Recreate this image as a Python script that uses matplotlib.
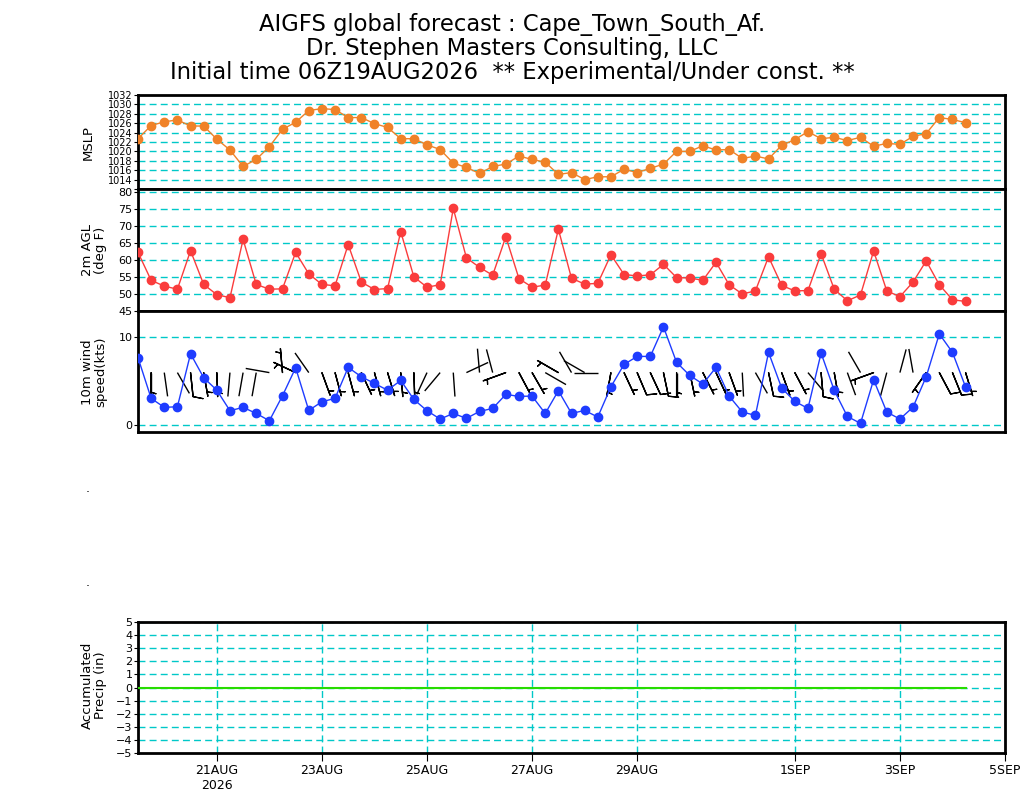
import numpy as np
import pandas as pd
import matplotlib
matplotlib.use('Agg')
import matplotlib.pyplot as plt
import matplotlib.dates as mdates
from matplotlib.collections import LineCollection

# 6-hourly forecast steps, 19AUG 12Z .. 4SEP 06Z
times = pd.date_range('2026-08-19 12:00', periods=64, freq='6h')

mslp = [1022.7, 1025.5, 1026.3, 1026.7, 1025.4, 1025.4, 1022.6, 1020.3, 1016.8, 1018.3,
        1021.0, 1024.7, 1026.2, 1028.7, 1029.1, 1028.9, 1027.2, 1027.2, 1025.9, 1025.1,
        1022.7, 1022.7, 1021.4, 1020.4, 1017.5, 1016.6, 1015.3, 1016.8, 1017.3, 1019.0,
        1018.3, 1017.7, 1015.1, 1015.5, 1014.0, 1014.6, 1014.6, 1016.2, 1015.5, 1016.4,
        1017.3, 1020.0, 1020.0, 1021.2, 1020.3, 1020.4, 1018.5, 1019.0, 1018.4, 1021.3,
        1022.5, 1024.2, 1022.7, 1023.0, 1022.3, 1023.0, 1021.1, 1021.7, 1021.5, 1023.2,
        1023.8, 1027.2, 1026.8, 1026.1]

temp = [62.2, 54.0, 52.3, 51.4, 62.7, 52.8, 49.8, 48.9, 66.0, 52.8,
        51.4, 51.5, 62.2, 55.9, 52.8, 52.4, 64.5, 53.5, 51.3, 51.6,
        68.3, 55.0, 52.0, 52.7, 75.1, 60.6, 57.8, 55.5, 66.8, 54.5,
        52.0, 52.6, 69.0, 54.6, 52.9, 53.1, 61.5, 55.7, 55.3, 55.6,
        58.7, 54.8, 54.7, 54.0, 59.3, 52.7, 50.0, 50.9, 60.9, 52.5,
        50.9, 51.0, 61.8, 51.4, 48.0, 49.7, 62.6, 50.9, 49.2, 53.5,
        59.7, 52.7, 48.3, 47.8]

wspd = [7.7, 3.07, 2.05, 2.12, 8.14, 5.42, 4.0, 1.67, 2.05, 1.36,
        0.53, 3.37, 6.55, 1.70, 2.69, 3.07, 6.59, 5.53, 4.77, 4.0,
        5.11, 2.95, 1.67, 0.72, 1.36, 0.80, 1.59, 1.93, 3.52, 3.30,
        3.33, 1.36, 3.94, 1.36, 1.70, 0.95, 4.39, 6.93, 7.84, 7.84,
        11.2, 7.16, 5.68, 4.70, 6.59, 3.33, 1.52, 1.14, 8.30, 4.24,
        2.73, 1.93, 8.22, 3.98, 1.02, 0.23, 5.19, 1.52, 0.72, 2.08,
        5.53, 10.4, 8.30, 4.36]

# direction the wind blows from, degrees
wdir = [200, 180, 172, 150, 174, 170, 178, 185, 190, 190,
        280, 355, 295, 325, 160, 165, 165, 155, 165, 163,
        175, 178, 205, 220, 176, 65, 355, 345, 250, 152,
        150, 120, 300, 330, 300, 270, 190, 155, 157, 155,
        168, 180, 168, 153, 155, 160, 177, 150, 168, 160,
        152, 140, 175, 170, 160, 330, 250, 195, 15, 350,
        215, 152, 158, 163]

precip = [0.0] * 64

tick_dates = ['2026-08-21', '2026-08-23', '2026-08-25', '2026-08-27',
              '2026-08-29', '2026-09-01', '2026-09-03', '2026-09-05']
tick_labels = ['21AUG\n2026', '23AUG', '25AUG', '27AUG', '29AUG', '1SEP', '3SEP', '5SEP']

xn = mdates.date2num(times)
xt = mdates.date2num(pd.to_datetime(tick_dates))
x0 = mdates.date2num(pd.Timestamp('2026-08-19 12:00'))
x1 = mdates.date2num(pd.Timestamp('2026-09-05 00:00'))

GRID = '#00c8c8'
DASH = (0, (5, 3))

fig = plt.figure(figsize=(10.24, 8), dpi=100)
L, W = 138 / 1024, 867 / 1024

def panel(top, bottom):
    ax = fig.add_axes([L, 1 - bottom / 800, W, (bottom - top) / 800])
    ax.set_xlim(x0, x1)
    for s in ax.spines.values():
        s.set_linewidth(2)
    ax.tick_params(axis='y', direction='out', length=3, labelsize=8, pad=1)
    ax.tick_params(axis='x', bottom=False, labelbottom=False)
    return ax

# MSLP
ax1 = panel(95, 189)
ax1.set_ylim(1012, 1032)
ax1.set_yticks(range(1012, 1033, 2))
ax1.set_yticklabels([''] + [str(v) for v in range(1014, 1033, 2)])
ax1.tick_params(axis='y', labelsize=7)
for v in range(1014, 1032, 2):
    ax1.axhline(v, color=GRID, lw=1, ls=DASH, zorder=1)
ax1.plot(xn, mslp, '-o', color='#f08228', lw=1, ms=6, zorder=3)

# 2m temperature
ax2 = panel(189, 311)
ax2.set_ylim(45, 80.8)
ax2.set_yticks(range(45, 81, 5))
for v in range(50, 81, 5):
    ax2.axhline(v, color=GRID, lw=1, ls=DASH, zorder=1)
ax2.plot(xn, temp, '-o', color='#fa3c3c', lw=1, ms=6, zorder=3)

# 10m wind
ax3 = panel(311, 432)
ax3.set_ylim(-0.75, 13)
ax3.set_yticks([0, 10])
for v in [0, 10]:
    ax3.axhline(v, color=GRID, lw=1, ls=DASH, zorder=1)
rad = np.radians(wdir)
spd = np.array(wspd)
by = np.full(len(xn), 6.0)
# staff of each barb, 24 px long, converted to data units of this panel
staff = 24.0
dxp = (x1 - x0) / 867.0
dyp = 13.75 / 121.0
segs = [[(x, y), (x + staff * np.sin(r) * dxp, y + staff * np.cos(r) * dyp)]
        for x, y, r in zip(xn, by, rad)]
ax3.add_collection(LineCollection(segs, colors='k', linewidths=1.0, zorder=2))
ax3.barbs(xn, by, -spd * np.sin(rad), -spd * np.cos(rad), length=5.9, flip_barb=True,
          sizes=dict(emptybarb=0), linewidth=0.9, color='k', zorder=2)
ax3.plot(xn, wspd, '-o', color='#1e3cff', lw=1, ms=6, zorder=3)

# accumulated precip
ax4 = panel(622, 753)
ax4.set_ylim(-5, 5)
ax4.set_yticks(range(-5, 6))
for v in range(-4, 6):
    ax4.axhline(v, color=GRID, lw=1, ls=DASH, zorder=1)
for v in xt[:-1]:
    ax4.axvline(v, color=GRID, lw=1, ls=DASH, zorder=1)
ax4.plot(xn, precip, '-', color='#28dc00', lw=1.5, zorder=3)
ax4.set_xticks(xt)
ax4.set_xticklabels(tick_labels, fontsize=9)
ax4.tick_params(axis='x', bottom=True, labelbottom=True, direction='out', length=6, pad=2)

# axis titles
fig.text(88 / 1024, 1 - 142 / 800, 'MSLP', rotation=90, ha='center', va='center', fontsize=9.5)
fig.text(94 / 1024, 1 - 250 / 800, '2m AGL\n(deg F)', rotation=90, ha='center', va='center',
         fontsize=9.5, linespacing=1.0)
fig.text(94 / 1024, 1 - 372 / 800, '10m wind\nspeed(kts)', rotation=90, ha='center', va='center',
         fontsize=9.5, linespacing=1.0)
fig.text(94 / 1024, 1 - 685 / 800, 'Accumulated\nPrecip (in)', rotation=90, ha='center',
         va='center', fontsize=9.5, linespacing=1.0)
fig.text(88 / 1024, 1 - 488 / 800, '.', ha='center', va='center', fontsize=9)
fig.text(88 / 1024, 1 - 582 / 800, '.', ha='center', va='center', fontsize=9)

# header
fig.text(0.5, 1 - 25 / 800, 'AIGFS global forecast : Cape_Town_South_Af.', ha='center',
         va='center', fontsize=16.3)
fig.text(0.5, 1 - 48 / 800, 'Dr. Stephen Masters Consulting, LLC', ha='center',
         va='center', fontsize=16.3)
fig.text(0.5, 1 - 72 / 800, 'Initial time 06Z19AUG2026  ** Experimental/Under const. **',
         ha='center', va='center', fontsize=16.3)

fig.savefig('out.png', dpi=100)
